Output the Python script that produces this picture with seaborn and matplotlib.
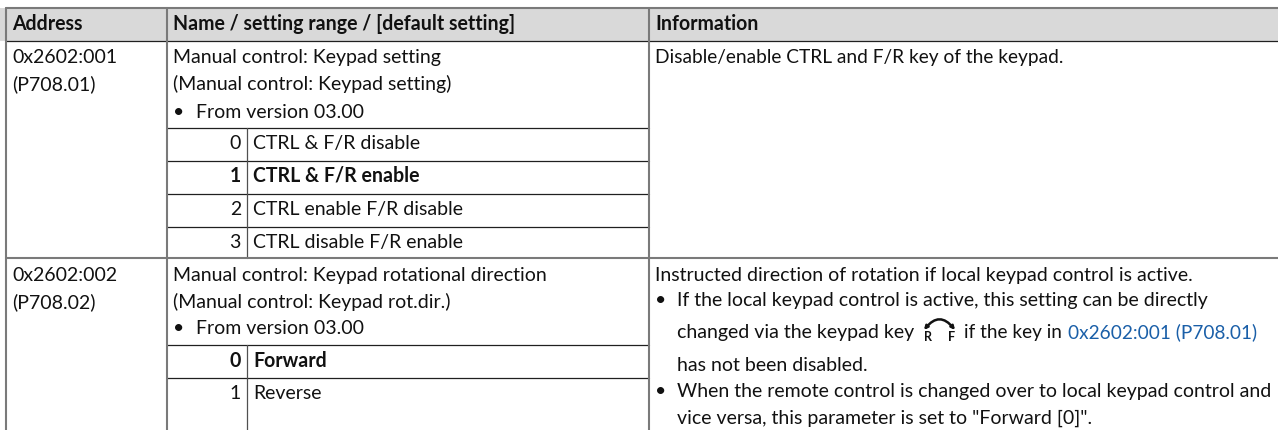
import pandas as pd
import seaborn as sns
from matplotlib import pyplot as plt
from matplotlib.patches import FancyArrowPatch

header_labels = ["Address", "Name / setting range / [default setting]", "Information"]
address_labels = ["0x2602:001", "(P708.01)", "0x2602:002", "(P708.02)"]
name_labels = ["Manual control: Keypad setting", "(Manual control: Keypad setting)", "From version 03.00",
               "Manual control: Keypad rotational direction", "(Manual control: Keypad rot.dir.)", "From version 03.00"]
setting_values = ["0", "1", "2", "3", "0", "1"]
setting_labels = ["CTRL & F/R disable", "CTRL & F/R enable", "CTRL enable F/R disable", "CTRL disable F/R enable",
                  "Forward", "Reverse"]
setting_default = [False, True, False, False, True, False]
info_labels = ["Disable/enable CTRL and F/R key of the keypad.",
               "Instructed direction of rotation if local keypad control is active.",
               "If the local keypad control is active, this setting can be directly",
               "changed via the keypad key",
               "has not been disabled.",
               "When the remote control is changed over to local keypad control and",
               "vice versa, this parameter is set to \"Forward [0]\"."]
info_after_icon = "if the key in"
link_label = "0x2602:001 (P708.01)"

W, H = 1278, 430
GREY, DARK, MID, TEXT = "#7a7a7a", "#202020", "#505050", "#111111"
FS = 14.05
FONT = ["Lato", "DejaVu Sans"]


def rule_table():
    # one row per line end, drawn by seaborn with one unit for each rule
    groups = {
        "dark": [(5.5, 41, 1278, 41),
                 (167, 127.5, 649, 127.5), (167, 160.5, 649, 160.5), (167, 193.5, 649, 193.5),
                 (167, 226.5, 649, 226.5), (167, 345, 649, 345), (167, 378, 649, 378)],
        "mid": [(247, 127.5, 247, 258), (247, 345, 247, 430)],
        "grey": [(5.5, 8, 1278, 8), (5.5, 258, 1278, 258),
                 (5.5, 8, 5.5, 430), (167, 8, 167, 430), (649, 8, 649, 430)],
    }
    rows = []
    for kind, segs in groups.items():
        for n, (x0, y0, x1, y1) in enumerate(segs):
            rows.append({"kind": kind, "rule": f"{kind}{n}", "x": x0, "y": y0})
            rows.append({"kind": kind, "rule": f"{kind}{n}", "x": x1, "y": y1})
    return pd.DataFrame(rows)


def put(ax, x, y, s, **kw):
    kw.setdefault("fontsize", FS)
    kw.setdefault("color", TEXT)
    return ax.text(x, y, s, family=FONT, va="baseline", **kw)


def main():
    sns.set_theme(style="white", rc={"axes.linewidth": 0})
    fig, ax = plt.subplots(figsize=(W / 100, H / 100), dpi=100)
    fig.subplots_adjust(0, 0, 1, 1)

    ax.axhspan(8, 41, color="#d9d9d9", lw=0, zorder=0)

    rules = rule_table()
    for kind, color, lw, z in (("dark", DARK, 0.9, 2), ("mid", MID, 0.9, 2), ("grey", GREY, 1.5, 3)):
        sns.lineplot(data=rules[rules["kind"] == kind], x="x", y="y", units="rule", estimator=None, sort=False,
                     color=color, linewidth=lw, ax=ax, zorder=z)

    ax.set_xlim(0, W)
    ax.set_ylim(H, 0)
    ax.set_xlabel("")
    ax.set_ylabel("")
    ax.set_xticks([])
    ax.set_yticks([])

    for x, s in zip((12, 173, 655), header_labels):
        put(ax, x, 30, s, fontweight="bold")

    for y, s in zip((63, 90, 281, 308), address_labels):
        put(ax, 12, y, s)

    for y, s in zip((63, 90, 118, 281, 308, 334), name_labels):
        if s.startswith("From"):
            put(ax, 173, y, "•")
            put(ax, 196, y, s)
        else:
            put(ax, 173, y, s)

    for y, v, s, bold in zip((149, 182, 215, 248, 367, 399), setting_values, setting_labels, setting_default):
        w = "bold" if bold else "normal"
        put(ax, 241, y, v, ha="right", fontweight=w)
        put(ax, 253, y, s, fontweight=w)

    put(ax, 655, 63, info_labels[0], fontsize=13.75)
    put(ax, 655, 281, info_labels[1])
    put(ax, 655, 306, "•")
    put(ax, 677, 306, info_labels[2])
    put(ax, 677, 338, info_labels[3])
    put(ax, 964, 338, info_after_icon, fontsize=13.7)
    put(ax, 1068, 338, link_label, color="#1a5fa8", fontsize=13.65)
    put(ax, 677, 371, info_labels[4])
    put(ax, 655, 397, "•")
    put(ax, 677, 397, info_labels[5])
    put(ax, 677, 424, info_labels[6])

    # keypad key icon
    ax.add_patch(FancyArrowPatch((924, 330), (955, 330), connectionstyle="arc3,rad=-0.62", arrowstyle="<|-|>",
                                 mutation_scale=5, color="#111111", lw=1.8, shrinkA=0, shrinkB=0, zorder=4))
    put(ax, 928, 341, "R", ha="center", fontsize=9, fontweight="bold")
    put(ax, 952, 341, "F", ha="center", fontsize=9, fontweight="bold")

    fig.savefig("out.png", dpi=100)


if __name__ == '__main__':
    main()
